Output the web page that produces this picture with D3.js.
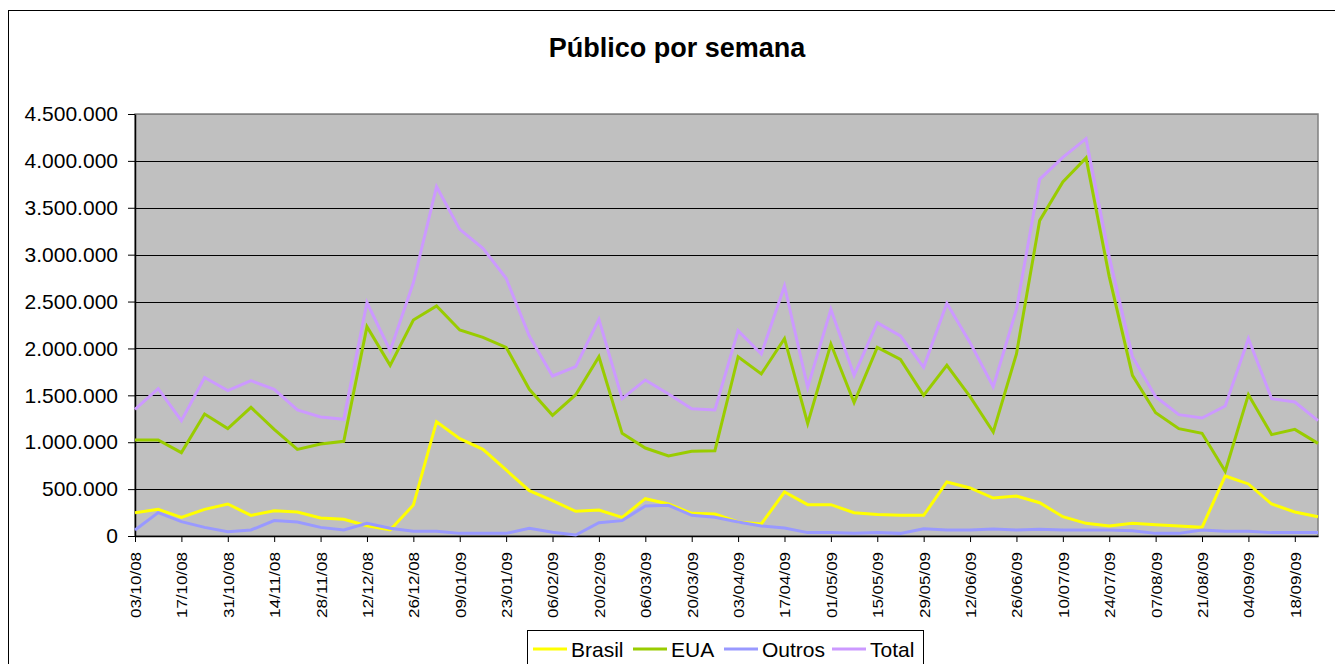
<!DOCTYPE html>
<html>
<head>
<meta charset="utf-8">
<script src="https://cdnjs.cloudflare.com/ajax/libs/d3/7.8.5/d3.min.js"></script>
<style>
  html, body { margin: 0; padding: 0; background: #fff; }
  text { font-family: "Liberation Sans", Arial, sans-serif; }
</style>
</head>
<body>
<div id="chart"></div>
<script>
// semanas (categorias)
const weeks = [
  "03/10/08","10/10/08","17/10/08","24/10/08","31/10/08","07/11/08","14/11/08","21/11/08","28/11/08",
  "05/12/08","12/12/08","19/12/08","26/12/08","02/01/09","09/01/09","16/01/09","23/01/09","30/01/09",
  "06/02/09","13/02/09","20/02/09","27/02/09","06/03/09","13/03/09","20/03/09","27/03/09","03/04/09",
  "10/04/09","17/04/09","24/04/09","01/05/09","08/05/09","15/05/09","22/05/09","29/05/09","05/06/09",
  "12/06/09","19/06/09","26/06/09","03/07/09","10/07/09","17/07/09","24/07/09","31/07/09","07/08/09",
  "14/08/09","21/08/09","28/08/09","04/09/09","11/09/09","18/09/09","25/09/09"
];

const brasil = [
  249000,284000,199000,284000,341000,220000,270000,256000,192000,178000,110000,64000,330000,1219000,
  1038000,924000,704000,483000,377000,263000,277000,199000,398000,341000,242000,235000,149000,128000,
  469000,334000,334000,249000,228000,220000,220000,576000,512000,405000,427000,355000,206000,135000,
  107000,135000,121000,107000,92000,640000,555000,341000,256000,206000
];

const eua = [
  1024000,1024000,889000,1300000,1145000,1372000,1137000,924000,981000,1010000,2232000,1820000,2303000,2453000,
  2197000,2119000,2012000,1564000,1287000,1507000,1912000,1095000,938000,853000,903000,910000,1912000,1728000,
  2104000,1201000,2047000,1422000,2012000,1884000,1500000,1820000,1486000,1109000,1941000,3363000,3775000,4031000,
  2766000,1713000,1315000,1145000,1095000,690000,1507000,1081000,1137000,988000
];

const outros = [
  64000,249000,153000,92000,46000,64000,164000,149000,92000,64000,135000,82000,50000,50000,
  28000,28000,28000,82000,39000,11000,142000,164000,320000,327000,220000,199000,149000,107000,
  85000,36000,36000,28000,36000,28000,78000,64000,64000,75000,64000,71000,64000,64000,
  64000,57000,28000,28000,64000,50000,50000,36000,36000,36000
];

const total = [
  1350000,1571000,1230000,1690000,1550000,1656000,1564000,1344000,1270000,1244000,2490000,1976000,2700000,3725000,
  3270000,3068000,2748000,2133000,1706000,1806000,2311000,1465000,1664000,1514000,1358000,1344000,2190000,1941000,
  2666000,1585000,2417000,1713000,2275000,2133000,1799000,2481000,2062000,1592000,2417000,3803000,4038000,4237000,
  2979000,1912000,1486000,1294000,1258000,1386000,2104000,1465000,1429000,1230000
];

const yTicks = [0, 500000, 1000000, 1500000, 2000000, 2500000, 3000000, 3500000, 4000000, 4500000];
const xTicks = weeks.filter((d, i) => i % 2 === 0);

const series = [
  { name: "Brasil", values: brasil, color: "#ffff00" },
  { name: "EUA", values: eua, color: "#99cc00" },
  { name: "Outros", values: outros, color: "#9999ff" },
  { name: "Total", values: total, color: "#cc99ff" }
];

const width = 1335, height = 664;
const plot = { left: 135, right: 1318, top: 114, bottom: 536 };

const ptBR = d3.formatLocale({ decimal: ",", thousands: ".", grouping: [3], currency: ["", ""] });
const fmt = ptBR.format(",d");

const svg = d3.select("#chart").append("svg")
  .attr("width", width)
  .attr("height", height);

// moldura do gráfico
svg.append("rect")
  .attr("x", 8.5).attr("y", 10.5)
  .attr("width", 1400).attr("height", 800)
  .attr("fill", "#fff")
  .attr("stroke", "#000")
  .attr("stroke-width", 1);

svg.append("text")
  .attr("x", 677).attr("y", 57)
  .attr("text-anchor", "middle")
  .style("font-size", "27px")
  .style("font-weight", "bold")
  .text("Público por semana");

const x = d3.scalePoint().domain(weeks).range([plot.left, plot.right]);
const y = d3.scaleLinear().domain([0, 4500000]).range([plot.bottom, plot.top]);

// área de plotagem
svg.append("rect")
  .attr("x", plot.left).attr("y", plot.top)
  .attr("width", plot.right - plot.left).attr("height", plot.bottom - plot.top)
  .attr("fill", "#c0c0c0")
  .attr("stroke", "#808080")
  .attr("stroke-width", 1.5);

svg.append("g")
  .selectAll("line")
  .data(yTicks.filter(d => d > 0))
  .enter().append("line")
  .attr("x1", plot.left).attr("x2", plot.right)
  .attr("y1", d => Math.round(y(d)) + 0.5).attr("y2", d => Math.round(y(d)) + 0.5)
  .attr("stroke", d => d === 4500000 ? "#808080" : "#000")
  .attr("stroke-width", 1);

const yAxis = svg.append("g")
  .attr("transform", "translate(" + plot.left + ",0)")
  .call(d3.axisLeft(y).tickValues(yTicks).tickFormat(fmt).tickSize(7).tickSizeOuter(0).tickPadding(10));
yAxis.select(".domain").attr("stroke", "#000").attr("stroke-width", 1.5);
yAxis.selectAll(".tick line").attr("stroke", "#000");
yAxis.selectAll(".tick text").style("font-size", "21px").attr("fill", "#000");

const xAxis = svg.append("g")
  .attr("transform", "translate(0," + plot.bottom + ")")
  .call(d3.axisBottom(x).tickValues(xTicks).tickSize(6).tickSizeOuter(0));
xAxis.select(".domain").attr("stroke", "#000").attr("stroke-width", 1.5);
xAxis.selectAll(".tick line").attr("stroke", "#000");
xAxis.selectAll(".tick text")
  .attr("transform", "rotate(-90)")
  .attr("x", -16).attr("y", 0).attr("dy", "0.35em")
  .attr("text-anchor", "end")
  .attr("textLength", 66)
  .attr("lengthAdjust", "spacingAndGlyphs")
  .style("font-size", "15.5px")
  .attr("fill", "#000");

const line = d3.line()
  .x((d, i) => x(weeks[i]))
  .y(d => y(d));

svg.append("g")
  .selectAll("path")
  .data(series)
  .enter().append("path")
  .attr("d", d => line(d.values))
  .attr("fill", "none")
  .attr("stroke", d => d.color)
  .attr("stroke-width", 3);

// legenda
const legend = svg.append("g");
legend.append("rect")
  .attr("x", 527.5).attr("y", 630.5)
  .attr("width", 396).attr("height", 60)
  .attr("fill", "#fff")
  .attr("stroke", "#000")
  .attr("stroke-width", 1);

const legendX = [533, 633, 724, 832];
const items = legend.selectAll("g.item")
  .data(series)
  .enter().append("g")
  .attr("class", "item")
  .attr("transform", (d, i) => "translate(" + legendX[i] + ",649)");
items.append("line")
  .attr("x1", 0).attr("x2", 34)
  .attr("stroke", d => d.color)
  .attr("stroke-width", 3);
items.append("text")
  .attr("x", 38).attr("y", 8)
  .style("font-size", "21px")
  .text(d => d.name);
</script>
</body>
</html>
